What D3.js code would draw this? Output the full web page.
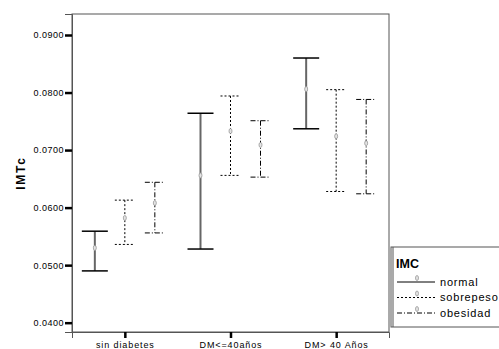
<!DOCTYPE html>
<html>
<head>
<meta charset="utf-8">
<script src="https://cdn.jsdelivr.net/npm/d3@7/dist/d3.min.js"></script>
<style>
  body { margin: 0; background: #fff; }
  text { font-family: "Liberation Sans", Arial, sans-serif; fill: #000; }
</style>
</head>
<body>
<div id="chart"></div>
<script>
const categories = ['sin diabetes', 'DM<=40años', 'DM> 40 Años'];
const series = ['normal', 'sobrepeso', 'obesidad'];
const yTicks = [0.04, 0.05, 0.06, 0.07, 0.08, 0.09];

// mean, lower, upper per series (one value per category)
const normalMean = [0.0530, 0.0656, 0.0806];
const normalLow = [0.0490, 0.0528, 0.0737];
const normalHigh = [0.0559, 0.0764, 0.0860];
const sobreMean = [0.0582, 0.0733, 0.0724];
const sobreLow = [0.0536, 0.0656, 0.0628];
const sobreHigh = [0.0613, 0.0794, 0.0805];
const obesMean = [0.0608, 0.0709, 0.0712];
const obesLow = [0.0556, 0.0653, 0.0624];
const obesHigh = [0.0644, 0.0751, 0.0788];

const styles = {
  normal: { dash: null, cap: 13, stem: '#666', stemW: 2 },
  sobrepeso: { dash: '2,2', cap: 10, stem: '#000', stemW: 1 },
  obesidad: { dash: '5,2,1,2', cap: 10, stem: '#000', stemW: 1 }
};

const rows = [];
categories.forEach(function(c, i){
  rows.push({cat: c, s: 'normal', mean: normalMean[i], lo: normalLow[i], hi: normalHigh[i]});
  rows.push({cat: c, s: 'sobrepeso', mean: sobreMean[i], lo: sobreLow[i], hi: sobreHigh[i]});
  rows.push({cat: c, s: 'obesidad', mean: obesMean[i], lo: obesLow[i], hi: obesHigh[i]});
});

const W = 499, H = 349;
const margin = {left: 72, right: 389, top: 14, bottom: 332};

const svg = d3.select('#chart').append('svg')
  .attr('width', W).attr('height', H);

const x = d3.scalePoint().domain(categories).range([margin.left, margin.right]).padding(0.5);
const off = d3.scalePoint().domain(series).range([-30, 30]);
const y = d3.scaleLinear().domain([0.03838, 0.09365]).range([margin.bottom, margin.top]);

// frame
svg.append('rect')
  .attr('x', margin.left).attr('y', margin.top)
  .attr('width', margin.right - margin.left).attr('height', margin.bottom - margin.top)
  .attr('fill', 'none').attr('stroke', '#555').attr('stroke-width', 1);

// y axis
const yAxis = d3.axisLeft(y).tickValues(yTicks).tickSize(7).tickPadding(1)
  .tickFormat(d3.format('.4f'));
const gy = svg.append('g').attr('transform', 'translate(' + margin.left + ',0)').call(yAxis);
gy.select('.domain').attr('stroke', '#555');
gy.selectAll('.tick line').attr('stroke', '#000').attr('stroke-width', 2.5);
gy.selectAll('.tick text').style('font-size', '9px').style('letter-spacing', '0.5px').attr('fill', '#222');

// x axis
const xAxis = d3.axisBottom(x).tickSize(6).tickPadding(4);
const gx = svg.append('g').attr('transform', 'translate(0,' + margin.bottom + ')').call(xAxis);
gx.select('.domain').attr('stroke', '#555');
gx.selectAll('.tick line').attr('stroke', '#000').attr('stroke-width', 2.5);
gx.selectAll('.tick text').style('font-size', '9px').style('letter-spacing', '0.9px').attr('fill', '#222');

// y label
svg.append('text')
  .attr('transform', 'translate(25,' + 173 + ') rotate(-90)')
  .attr('text-anchor', 'middle')
  .style('font-size', '12px').style('font-weight', 'bold').style('letter-spacing', '1.8px')
  .text('IMTc');

// error bars
const bars = svg.selectAll('.bar').data(rows).enter().append('g')
  .attr('class', 'bar')
  .attr('transform', function(d){ return 'translate(' + (x(d.cat) + off(d.s)) + ',0)'; });

bars.append('line')
  .attr('x1', 0).attr('x2', 0)
  .attr('y1', function(d){ return y(d.hi); })
  .attr('y2', function(d){ return y(d.lo); })
  .attr('stroke', function(d){ return styles[d.s].stem; })
  .attr('stroke-width', function(d){ return styles[d.s].stemW; })
  .attr('stroke-dasharray', function(d){ return styles[d.s].dash; });

['hi', 'lo'].forEach(function(k){
  bars.append('line')
    .attr('x1', function(d){ return -styles[d.s].cap; })
    .attr('x2', function(d){ return styles[d.s].cap; })
    .attr('y1', function(d){ return y(d[k]); })
    .attr('y2', function(d){ return y(d[k]); })
    .attr('stroke', '#000')
    .attr('stroke-width', function(d){ return d.s === 'normal' ? 1.5 : 1; })
    .attr('stroke-dasharray', function(d){ return styles[d.s].dash; });
});

// mean markers
bars.append('ellipse')
  .attr('cx', 0).attr('cy', function(d){ return y(d.mean); })
  .attr('rx', 1.5).attr('ry', 2.5)
  .attr('fill', '#e4e4e4').attr('stroke', '#999').attr('stroke-width', 0.8);

// legend
const lg = svg.append('g').attr('transform', 'translate(391,247)');
lg.append('rect').attr('x', 0).attr('y', 0).attr('width', 120).attr('height', 80)
  .attr('fill', '#fff').attr('stroke', '#555').attr('stroke-width', 1);
lg.append('line').attr('x1', 2).attr('x2', 2).attr('y1', 0).attr('y2', 80)
  .attr('stroke', '#555').attr('stroke-width', 1);
lg.append('text').attr('x', 5).attr('y', 21)
  .style('font-size', '12.5px').style('font-weight', 'bold').text('IMC');

const items = lg.selectAll('.item').data(series).enter().append('g')
  .attr('class', 'item')
  .attr('transform', function(d, i){ return 'translate(0,' + (35 + i * 15.5) + ')'; });
items.append('line').attr('x1', 6).attr('x2', 44).attr('y1', 0).attr('y2', 0)
  .attr('stroke', '#000').attr('stroke-width', 1)
  .attr('stroke-dasharray', function(d){ return styles[d].dash; });
items.append('ellipse').attr('cx', 26).attr('cy', -4)
  .attr('rx', 1.5).attr('ry', 2.5)
  .attr('fill', '#e4e4e4').attr('stroke', '#999').attr('stroke-width', 0.8);
items.append('text').attr('x', 49).attr('y', 3.5)
  .style('font-size', '11px').style('letter-spacing', '0.8px').attr('fill', '#222')
  .text(function(d){ return d; });
</script>
</body>
</html>
